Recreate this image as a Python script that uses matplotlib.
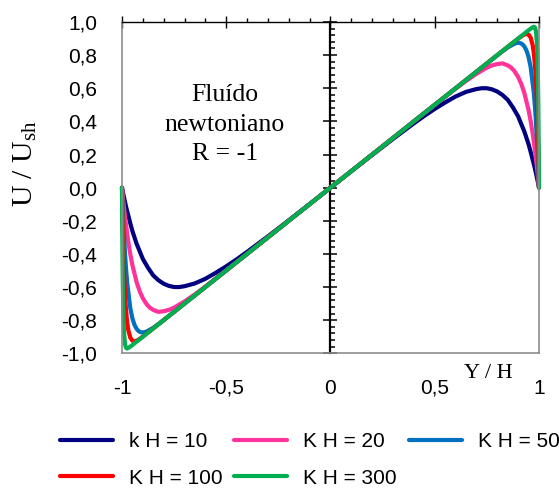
import matplotlib
matplotlib.use("Agg")
import matplotlib.pyplot as plt
from matplotlib.ticker import MultipleLocator, FuncFormatter

plt.rcParams['font.family'] = ['Liberation Sans', 'DejaVu Sans']
plt.rcParams['mathtext.fontset'] = 'custom'
plt.rcParams['mathtext.rm'] = 'Liberation Serif'
plt.rcParams['mathtext.it'] = 'Liberation Serif:italic'

# velocity profiles U/Ush across the channel, one per kH value
y_10 = [-1, -0.99, -0.98, -0.96, -0.95, -0.93, -0.9, -0.875, -0.85, -0.825, -0.8, -0.775, -0.75, -0.725, -0.7,
        -0.65, -0.6, -0.55, -0.5, -0.45, -0.4, -0.3, -0.2, -0.1,
        0, 0.1, 0.2, 0.3, 0.4, 0.45, 0.5, 0.55, 0.6, 0.65,
        0.7, 0.725, 0.75, 0.775, 0.8, 0.825, 0.85, 0.875, 0.9, 0.93, 0.95, 0.96, 0.98, 0.99, 1]
u_10 = [0, -0.061, -0.118, -0.216, -0.262, -0.338, -0.430, -0.484, -0.530, -0.559, -0.580, -0.593, -0.600, -0.600, -0.595,
        -0.578, -0.550, -0.514, -0.475, -0.433, -0.388, -0.294, -0.197, -0.099,
        0, 0.099, 0.197, 0.294, 0.388, 0.433, 0.475, 0.514, 0.550, 0.578,
        0.595, 0.600, 0.600, 0.593, 0.580, 0.559, 0.530, 0.484, 0.430, 0.338, 0.262, 0.216, 0.118, 0.061, 0]

y_20 = [-1, -0.993, -0.985, -0.97, -0.96, -0.95, -0.93, -0.915, -0.9, -0.88, -0.865, -0.85, -0.825, -0.8, -0.775,
        -0.75, -0.7, -0.65, -0.6, -0.5, -0.4, -0.2,
        0, 0.2, 0.4, 0.5, 0.6, 0.65, 0.7, 0.75,
        0.775, 0.8, 0.825, 0.85, 0.865, 0.88, 0.9, 0.915, 0.93, 0.95, 0.96, 0.97, 0.985, 0.993, 1]
u_20 = [0, -0.090, -0.182, -0.325, -0.402, -0.468, -0.570, -0.626, -0.668, -0.707, -0.726, -0.738, -0.750, -0.746, -0.738,
        -0.724, -0.687, -0.644, -0.597, -0.499, -0.400, -0.200,
        0, 0.200, 0.400, 0.499, 0.597, 0.644, 0.687, 0.724,
        0.738, 0.746, 0.750, 0.738, 0.726, 0.707, 0.668, 0.626, 0.570, 0.468, 0.402, 0.325, 0.182, 0.090, 0]

y_50 = [-1, -0.993, -0.985, -0.98, -0.975, -0.96, -0.95, -0.94, -0.93, -0.92, -0.91, -0.9, -0.89, -0.88, -0.85,
        -0.8, -0.5,
        0, 0.5, 0.8,
        0.85, 0.88, 0.89, 0.9, 0.91, 0.92, 0.93, 0.94, 0.95, 0.96, 0.975, 0.98, 0.985, 0.993, 1]
u_50 = [0, -0.219, -0.407, -0.498, -0.574, -0.728, -0.789, -0.828, -0.852, -0.866, -0.873, -0.874, -0.872, -0.867, -0.846,
        -0.799, -0.500,
        0, 0.500, 0.799,
        0.846, 0.867, 0.872, 0.874, 0.873, 0.866, 0.852, 0.828, 0.789, 0.728, 0.574, 0.498, 0.407, 0.219, 0]

y_100 = [-1, -0.997, -0.994, -0.991, -0.988, -0.984, -0.98, -0.975, -0.97, -0.96, -0.95, -0.94, -0.93, -0.92, -0.9,
         -0.85,
         0, 0.85,
         0.9, 0.92, 0.93, 0.94, 0.95, 0.96, 0.97, 0.975, 0.98, 0.984, 0.988, 0.991, 0.994, 0.997, 1]
u_100 = [0, -0.194, -0.349, -0.473, -0.572, -0.673, -0.748, -0.814, -0.858, -0.906, -0.924, -0.928, -0.924, -0.917, -0.899,
         -0.850,
         0, 0.850,
         0.899, 0.917, 0.924, 0.928, 0.924, 0.906, 0.858, 0.814, 0.748, 0.673, 0.572, 0.473, 0.349, 0.194, 0]

y_300 = [-1, -0.999, -0.997, -0.996, -0.994, -0.992, -0.99, -0.985, -0.98, -0.975, -0.965, -0.95,
         0, 0.95, 0.965, 0.975, 0.98, 0.985, 0.99, 0.992, 0.994, 0.996, 0.997, 0.999, 1]
u_300 = [0, -0.196, -0.479, -0.580, -0.725, -0.819, -0.878, -0.948, -0.968, -0.971, -0.964, -0.950,
         0, 0.950, 0.964, 0.971, 0.968, 0.948, 0.878, 0.819, 0.725, 0.580, 0.479, 0.196, 0]

series = [
    (y_10, u_10, 'k H = 10', '#000080'),
    (y_20, u_20, 'K H = 20', '#FF3399'),
    (y_50, u_50, 'K H = 50', '#0070C0'),
    (y_100, u_100, 'K H = 100', '#FF0000'),
    (y_300, u_300, 'K H = 300', '#00B050'),
]

fig = plt.figure(figsize=(5.59, 4.88), dpi=100)
ax = fig.add_axes([0.2182, 0.276, 0.746, 0.679])

lines = []
for yy, uu, lab, col in series:
    ln, = ax.plot(yy, uu, color=col, lw=3, label=lab, clip_on=False,
                  solid_capstyle='round', solid_joinstyle='round')
    lines.append(ln)

ax.set_xlim(-1, 1)
ax.set_ylim(-1, 1)

# box: grey frame, black x axis drawn along the top
for side in ['left', 'right', 'bottom']:
    ax.spines[side].set_color('#8c8c8c')
    ax.spines[side].set_linewidth(1.2)
ax.spines['top'].set_color('black')
ax.spines['top'].set_linewidth(1.0)

comma = FuncFormatter(lambda v, p: f"{v:g}".replace('.', ','))
comma1 = FuncFormatter(lambda v, p: f"{v:.1f}".replace('.', ','))

ax.xaxis.set_major_locator(MultipleLocator(0.5))
ax.xaxis.set_minor_locator(MultipleLocator(0.1))
ax.xaxis.set_major_formatter(comma)
ax.tick_params(axis='x', which='both', bottom=False, top=True,
               labelbottom=True, labeltop=False, labelsize=15, color='black')
ax.tick_params(axis='x', which='major', direction='inout', length=8.6, width=1.0, pad=14)
ax.tick_params(axis='x', which='minor', direction='out', length=3, width=1.0)

ax.yaxis.set_major_locator(MultipleLocator(0.2))
ax.yaxis.set_major_formatter(comma1)
ax.tick_params(axis='y', which='both', left=True, right=False, length=0,
               labelsize=15, pad=18)

# y axis with ticks through the middle of the channel
mid = ax.secondary_yaxis(0.5)
mid.yaxis.set_major_locator(MultipleLocator(0.2))
mid.yaxis.set_minor_locator(MultipleLocator(0.04))
mid.spines['right'].set_color('black')
mid.spines['right'].set_linewidth(1.6)
mid.tick_params(which='major', direction='inout', length=9.5, width=1.1, labelright=False)
mid.tick_params(which='minor', direction='out', length=3.6, width=1.1, labelright=False)

ax.set_ylabel(r'$\mathrm{U\ /\ U_{sh}}$', fontsize=21.5)
ax.yaxis.set_label_coords(-0.2, 0.571)

ax.text(0.878, -0.031, 'Y / H', transform=ax.transAxes, ha='center', va='top',
        fontsize=16, family='Liberation Serif')
ax.text(0.247, 0.69, 'Fluído\nnewtoniano\nR = -1', transform=ax.transAxes,
        ha='center', va='center', multialignment='center', fontsize=18.5,
        family='Liberation Serif', linespacing=1.45)

# legend filled row by row: 10, 20, 50 / 100, 300
order = [0, 3, 1, 4, 2]
fig.legend([lines[i] for i in order], [lines[i].get_label() for i in order],
           ncol=3, loc='upper left', bbox_to_anchor=(60 / 559, 1 - 432 / 488),
           frameon=False, fontsize=15, handlelength=2.55, handletextpad=0.77,
           columnspacing=0.55, labelspacing=0.85, borderpad=0, borderaxespad=0)

fig.savefig('out.png', dpi=100)
